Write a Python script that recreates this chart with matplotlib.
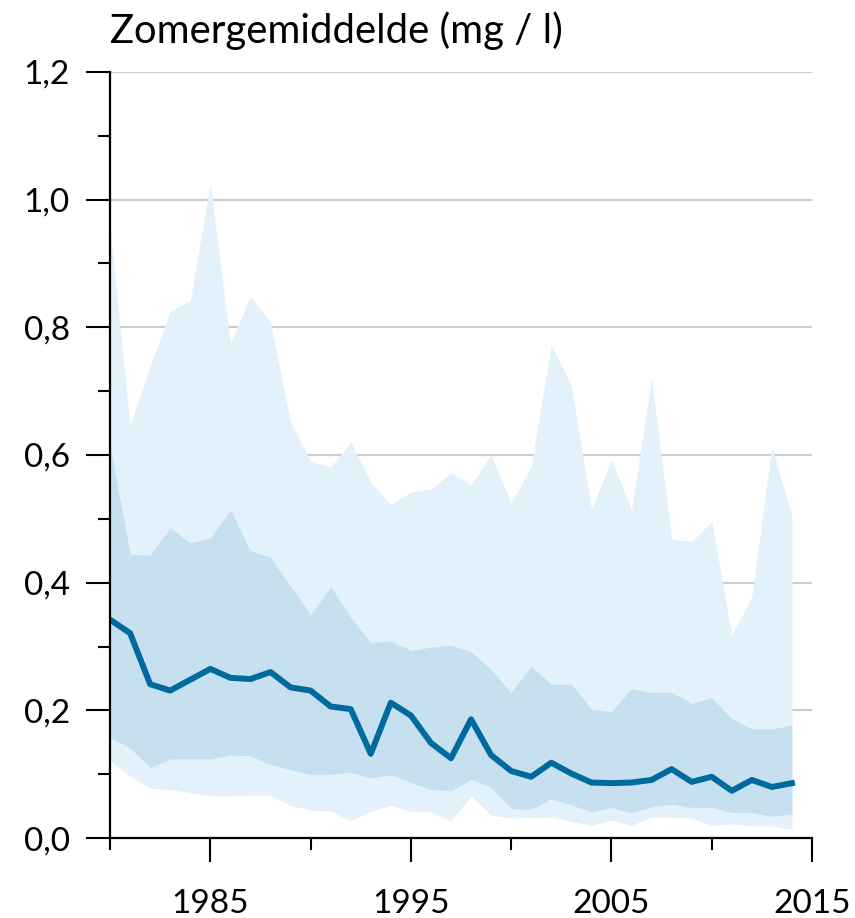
import numpy as np
import matplotlib.pyplot as plt
from matplotlib.ticker import MultipleLocator, FuncFormatter

# Jaren
jaren = np.arange(1980, 2015)

# 10-90 percentiel (buitenste band)
p90 = [0.955, 0.645, 0.739, 0.825, 0.842, 1.026, 0.774, 0.849, 0.808, 0.652,
       0.590, 0.581, 0.620, 0.558, 0.522, 0.542, 0.547, 0.572, 0.553, 0.600,
       0.525, 0.582, 0.772, 0.710, 0.515, 0.593, 0.514, 0.720, 0.469, 0.464,
       0.496, 0.318, 0.378, 0.613, 0.503]
p10 = [0.121, 0.097, 0.078, 0.076, 0.071, 0.066, 0.066, 0.067, 0.067, 0.051,
       0.044, 0.042, 0.027, 0.042, 0.051, 0.042, 0.041, 0.027, 0.066, 0.036,
       0.031, 0.032, 0.033, 0.026, 0.020, 0.028, 0.020, 0.033, 0.033, 0.031,
       0.020, 0.022, 0.019, 0.019, 0.014]

# 25-75 percentiel (binnenste band)
p75 = [0.615, 0.445, 0.443, 0.486, 0.462, 0.470, 0.514, 0.450, 0.440, 0.394,
       0.350, 0.394, 0.346, 0.306, 0.309, 0.294, 0.299, 0.302, 0.292, 0.264,
       0.228, 0.269, 0.241, 0.241, 0.202, 0.198, 0.234, 0.228, 0.228, 0.211,
       0.220, 0.187, 0.171, 0.171, 0.177]
p25 = [0.158, 0.141, 0.110, 0.124, 0.124, 0.124, 0.130, 0.129, 0.115, 0.107,
       0.099, 0.100, 0.103, 0.094, 0.099, 0.087, 0.076, 0.074, 0.092, 0.079,
       0.046, 0.045, 0.061, 0.052, 0.041, 0.048, 0.039, 0.049, 0.053, 0.048,
       0.048, 0.040, 0.040, 0.034, 0.038]

# mediaan
mediaan = [0.342, 0.321, 0.241, 0.231, 0.248, 0.265, 0.251, 0.249, 0.260, 0.236,
           0.231, 0.206, 0.202, 0.132, 0.212, 0.192, 0.149, 0.125, 0.186, 0.130,
           0.105, 0.096, 0.118, 0.101, 0.087, 0.086, 0.087, 0.091, 0.108, 0.088,
           0.096, 0.074, 0.091, 0.080, 0.086]

plt.rcParams['font.family'] = ['Lato', 'DejaVu Sans']

fig = plt.figure(figsize=(8.55, 9.18), dpi=100)
ax = fig.add_axes([0.1287, 0.0871, 0.821, 0.8345])

ax.fill_between(jaren, p10, p90, color='#e3f2fa', lw=0, zorder=2)
ax.fill_between(jaren, p25, p75, color='#c7e0ef', lw=0, zorder=3)
ax.plot(jaren, mediaan, color='#006a9e', lw=4.3, solid_joinstyle='round', zorder=4)

ax.set_xlim(1980, 2015)
ax.set_ylim(0, 1.2)

ax.yaxis.set_major_locator(MultipleLocator(0.2))
ax.yaxis.set_minor_locator(MultipleLocator(0.1))
ax.yaxis.set_major_formatter(FuncFormatter(lambda v, p: f'{v:.1f}'.replace('.', ',')))
ax.xaxis.set_major_locator(MultipleLocator(10, offset=5))
ax.xaxis.set_minor_locator(MultipleLocator(10))

ax.grid(axis='y', color='#cccccc', lw=1.5, zorder=1)
ax.set_axisbelow(True)

for s in ['top', 'right']:
    ax.spines[s].set_visible(False)
for s in ['left', 'bottom']:
    ax.spines[s].set_linewidth(1.6)
    ax.spines[s].set_zorder(5)

ax.tick_params(axis='y', which='major', length=17, width=1.5, labelsize=24, pad=12)
ax.tick_params(axis='y', which='minor', length=8.5, width=1.5)
ax.tick_params(axis='x', which='major', length=17, width=1.5, labelsize=24, pad=20)
ax.tick_params(axis='x', which='minor', length=8.5, width=1.5)

fig.text(0.129, 0.953, 'Zomergemiddelde (mg / l)', fontsize=28.8, ha='left', va='baseline')

plt.savefig('out.png', dpi=100)
